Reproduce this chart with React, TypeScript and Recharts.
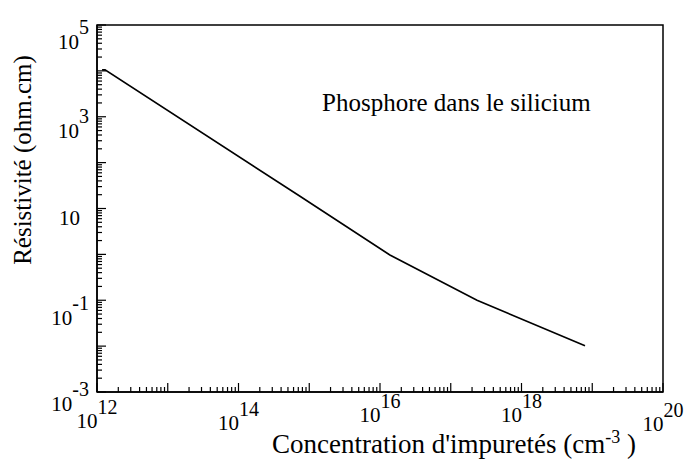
import { LineChart, Line, XAxis, YAxis, ReferenceArea, Label } from 'recharts';

// values (log-log curve)
const concentration = [1.18e12, 1.3e12, 7.4e14, 1.38e16, 2.35e17, 7.9e18];
const resistivity = [1.05e4, 1.05e4, 18.5, 0.97, 0.1, 0.0102];

// decades that carry a label
const xLabelExponents = [12, 14, 16, 18, 20];
const yLabelExponents = [-3, -1, 1, 3, 5];

const X_DOMAIN = [1e12, 1e20];
const Y_DOMAIN = [1e-3, 1e5];

const FONT = '"Liberation Serif", "Times New Roman", serif';

// the original labels sit a little unevenly below / beside their ticks
const X_LABEL_DROP: Record<number, number> = { 12: 36, 14: 38, 16: 30, 18: 30, 20: 39 };
const Y_LABEL_DROP: Record<number, number> = { 5: 24, 3: 21, 1: 16, [-1]: 25, [-3]: 19 };

const data = concentration.map((c, i) => ({ x: c, y: resistivity[i] }));

// 1..9 × 10^e for every decade, plus the last power
function logTicks(minExp: number, maxExp: number) {
  const out: number[] = [];
  for (let e = minExp; e < maxExp; e++) {
    for (let m = 1; m < 10; m++) out.push(m * Math.pow(10, e));
  }
  out.push(Math.pow(10, maxExp));
  return out;
}

const xTicks = logTicks(12, 20);
const yTicks = logTicks(-3, 5);

function decade(v: number) {
  const e = Math.log10(v);
  const exp = Math.round(e);
  return { major: Math.abs(e - exp) < 1e-6, exp };
}

function XTick(props: any) {
  const { x, y, payload } = props;
  const { major, exp } = decade(payload.value);
  const show = major && xLabelExponents.includes(exp);
  return (
    <g>
      <line x1={x} y1={y} x2={x} y2={y - (major ? 9 : 5)} stroke="#000" strokeWidth={1.2} />
      {show && (
        <text x={x} y={y + X_LABEL_DROP[exp]} textAnchor="middle" fontFamily={FONT} fontSize={21} fill="#000">
          10<tspan dy={-14} fontSize={20}>{exp}</tspan>
        </text>
      )}
    </g>
  );
}

function YTick(props: any) {
  const { x, y, payload } = props;
  const { major, exp } = decade(payload.value);
  const show = major && yLabelExponents.includes(exp);
  return (
    <g>
      <line x1={x} y1={y} x2={x + (major ? 9 : 5)} y2={y} stroke="#000" strokeWidth={1.2} />
      {show && exp === 1 && (
        <text x={x - 17} y={y + Y_LABEL_DROP[exp]} textAnchor="end" fontFamily={FONT} fontSize={21} fill="#000">
          10
        </text>
      )}
      {show && exp !== 1 && (
        <text x={x - 8} y={y + Y_LABEL_DROP[exp]} textAnchor="end" fontFamily={FONT} fontSize={21} fill="#000">
          10<tspan dy={-15} fontSize={20}>{exp}</tspan>
        </text>
      )}
    </g>
  );
}

const XTitle = () => (
  <text x={272} y={453} fontFamily={FONT} fontSize={27} fill="#000">
    Concentration d'impuretés (cm<tspan dy={-10} fontSize={18}>-3</tspan>
    <tspan dy={10}> )</tspan>
  </text>
);

const YTitle = () => (
  <text
    x={31}
    y={160}
    transform="rotate(-90 31 160)"
    textAnchor="middle"
    fontFamily={FONT}
    fontSize={25}
    fill="#000"
  >
    Résistivité (ohm.cm)
  </text>
);

const Note = () => (
  <text x={322} y={111} fontFamily={FONT} fontSize={25} fill="#000">
    Phosphore dans le silicium
  </text>
);

export default function App() {
  return (
    <div style={{ position: 'absolute', left: 0, top: 0, width: 689, height: 462, background: '#fff' }}>
      <LineChart width={689} height={462} data={data} margin={{ top: 25, right: 26, bottom: 0, left: 0 }}>
        <XAxis
          dataKey="x"
          type="number"
          scale="log"
          domain={X_DOMAIN}
          ticks={xTicks}
          interval={0}
          allowDataOverflow
          tickSize={0}
          tickMargin={0}
          tickLine={false}
          axisLine={{ stroke: '#000', strokeWidth: 1.5 }}
          tick={<XTick />}
          height={70}
        >
          <Label content={XTitle} />
        </XAxis>
        <YAxis
          dataKey="y"
          type="number"
          scale="log"
          domain={Y_DOMAIN}
          ticks={yTicks}
          interval={0}
          allowDataOverflow
          tickSize={0}
          tickMargin={0}
          tickLine={false}
          axisLine={{ stroke: '#000', strokeWidth: 1.5 }}
          tick={<YTick />}
          width={97}
        >
          <Label content={YTitle} />
        </YAxis>
        <ReferenceArea
          x1={X_DOMAIN[0]}
          x2={X_DOMAIN[1]}
          y1={Y_DOMAIN[0]}
          y2={Y_DOMAIN[1]}
          fill="none"
          stroke="#000"
          strokeWidth={1.5}
          ifOverflow="visible"
        >
          <Label content={Note} />
        </ReferenceArea>
        <Line
          dataKey="y"
          type="linear"
          stroke="#000"
          strokeWidth={1.6}
          dot={false}
          isAnimationActive={false}
        />
      </LineChart>
    </div>
  );
}
